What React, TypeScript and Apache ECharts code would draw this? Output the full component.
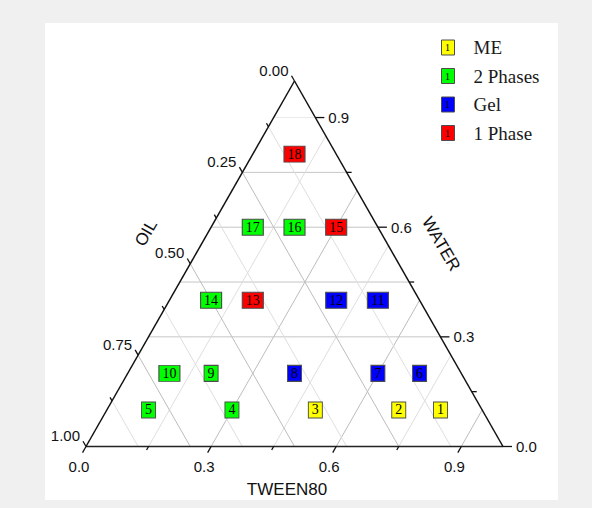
import React, { useEffect, useRef } from 'react';
import * as echarts from 'echarts';

// ---- data (ternary composition of each sample) ----
const sampleIds = [1, 2, 3, 4, 5, 6, 7, 8, 9, 10, 11, 12, 13, 14, 15, 16, 17, 18];
const tween80 = [0.8, 0.7, 0.5, 0.3, 0.1, 0.7, 0.6, 0.4, 0.2, 0.1, 0.5, 0.4, 0.2, 0.1, 0.3, 0.2, 0.1, 0.1];
const water = [0.1, 0.1, 0.1, 0.1, 0.1, 0.2, 0.2, 0.2, 0.2, 0.2, 0.4, 0.4, 0.4, 0.4, 0.6, 0.6, 0.6, 0.8];
const oil = [0.1, 0.2, 0.4, 0.6, 0.8, 0.1, 0.2, 0.4, 0.6, 0.7, 0.1, 0.2, 0.4, 0.5, 0.1, 0.2, 0.3, 0.1];
const phase = [
  'ME', 'ME', 'ME', '2 Phases', '2 Phases', 'Gel', 'Gel', 'Gel', '2 Phases', '2 Phases',
  'Gel', 'Gel', '1 Phase', '2 Phases', '1 Phase', '2 Phases', '2 Phases', '1 Phase',
];
const phaseNames = ['ME', '2 Phases', 'Gel', '1 Phase'];
const phaseColors = ['#ffff00', '#00ff00', '#0000ff', '#ff0000'];

// ---- axis ticks ----
const bottomTickValues = [0, 0.3, 0.6, 0.9];
const bottomTickLabels = ['0.0', '0.3', '0.6', '0.9'];
const bottomMinorTicks = [0.15, 0.45, 0.75];
const rightTickValues = [0, 0.3, 0.6, 0.9];
const rightTickLabels = ['0.0', '0.3', '0.6', '0.9'];
const rightMinorTicks = [0.15, 0.45, 0.75];
const leftTickValues = [0, 0.25, 0.5, 0.75, 1];
const leftTickLabels = ['0.00', '0.25', '0.50', '0.75', '1.00'];
const leftMinorTicks = [0.125, 0.375, 0.625, 0.875];

// grid lines
const waterGridMajor = [0.3, 0.45, 0.6, 0.75];
const waterGridFaint = [0.9];
const tweenGridMajor = [0.3, 0.6, 0.9];
const tweenGridMinor = [0.15, 0.45, 0.75];
const oilGridMajor = [0.25, 0.5, 0.75];
const oilGridMinor = [0.125, 0.375, 0.625, 0.875];

// ternary -> cartesian helpers
const toCart = (t: number, w: number) => [t + w / 2, w];
const leftPt = (o: number) => toCart(0, 1 - o); // left side, oil value
const bottomPt = (t: number) => toCart(t, 0); // base, tween value
const rightPt = (w: number) => toCart(1 - w, w); // right side, water value

const SANS = '"Liberation Sans", Arial, sans-serif';
const SERIF = '"Liberation Serif", "Times New Roman", serif';

export default function App() {
  const ref = useRef<HTMLDivElement>(null);
  useEffect(() => {
    if (!ref.current) return;
    const chart = echarts.init(ref.current, null, { renderer: 'svg' });

    const renderFrame = (params: any, api: any) => {
      const P = (c: number[]) => api.coord(c);
      const children: any[] = [];
      const line = (a: number[], b: number[], stroke: string, lw: number) =>
        children.push({
          type: 'line',
          shape: { x1: a[0], y1: a[1], x2: b[0], y2: b[1] },
          style: { stroke, lineWidth: lw },
          silent: true,
        });
      const text = (s: string, x: number, y: number, align: string, va: string) =>
        children.push({
          type: 'text',
          x,
          y,
          style: { text: s, x: 0, y: 0, fill: '#111', fontSize: 15, fontFamily: SANS, align, verticalAlign: va },
          silent: true,
        });

      const MAJ = '#bdbdbd';
      const MIN = '#dedede';
      // horizontal (water) grid
      waterGridMajor.forEach((w) => line(P(toCart(0, w)), P(toCart(1 - w, w)), '#c6c6c6', 1));
      waterGridFaint.forEach((w) => line(P(toCart(0, w)), P(toCart(1 - w, w)), '#ebebeb', 1));
      // constant tween lines (parallel to left side)
      tweenGridMinor.forEach((t) => line(P(toCart(t, 0)), P(toCart(t, 1 - t)), MIN, 1));
      tweenGridMajor.forEach((t) => line(P(toCart(t, 0)), P(toCart(t, 1 - t)), MAJ, 1));
      // constant oil lines (parallel to right side)
      oilGridMinor.forEach((o) => line(P(leftPt(o)), P(toCart(1 - o, 0)), MIN, 1));
      oilGridMajor.forEach((o) => line(P(leftPt(o)), P(toCart(1 - o, 0)), MAJ, 1));

      // triangle frame
      const A = P(toCart(0, 1));
      const BL = P(toCart(0, 0));
      const BR = P(toCart(1, 0));
      line(BL, BR, '#222', 1.5);
      line(BL, A, '#111', 1.5);
      line(BR, A, '#111', 1.5);

      const norm = (v: number[]) => {
        const l = Math.hypot(v[0], v[1]);
        return [v[0] / l, v[1] / l];
      };
      const leftDir = norm([A[0] - BR[0], A[1] - BR[1]]);
      const bottomDir = norm([BL[0] - A[0], BL[1] - A[1]]);
      const rightDir = [1, 0];
      const tick = (p: number[], d: number[], len: number) =>
        line(p, [p[0] + d[0] * len, p[1] + d[1] * len], '#111', 1.3);

      leftTickValues.forEach((o, i) => {
        const p = P(leftPt(o));
        tick(p, leftDir, 6);
        text(leftTickLabels[i], p[0] - 6, p[1] - 11, 'right', 'middle');
      });
      leftMinorTicks.forEach((o) => tick(P(leftPt(o)), leftDir, 4));

      bottomTickValues.forEach((t, i) => {
        const p = P(bottomPt(t));
        tick(p, bottomDir, 7);
        text(bottomTickLabels[i], p[0] - 7, p[1] + 20, 'center', 'middle');
      });
      bottomMinorTicks.forEach((t) => tick(P(bottomPt(t)), bottomDir, 4));

      rightTickValues.forEach((w, i) => {
        const p = P(rightPt(w));
        tick(p, rightDir, 9);
        text(rightTickLabels[i], p[0] + 13, p[1], 'left', 'middle');
      });
      rightMinorTicks.forEach((w) => tick(P(rightPt(w)), rightDir, 5));

      return { type: 'group', children };
    };

    const scatterSeries = phaseNames.map((name, k) => ({
      type: 'scatter',
      name,
      z: 5,
      data: sampleIds
        .map((id, i) => (phase[i] === name ? [tween80[i] + water[i] / 2, water[i], id, oil[i]] : null))
        .filter((d) => d !== null),
      symbol: 'rect',
      symbolSize: (v: any) => (String(v[2]).length > 1 ? [21, 16] : [14, 16]),
      itemStyle: { color: phaseColors[k], borderColor: '#4d4d4d', borderWidth: 1, opacity: 1 },
      label: {
        show: true,
        position: 'inside',
        formatter: (p: any) => String(p.value[2]),
        fontFamily: SERIF,
        fontSize: 14,
        color: '#000',
      },
      emphasis: { disabled: true },
    }));

    const legendLeft = 436;
    const legendTop = 33;
    const legendPad = 5;
    const legendRow = 19;
    const legendGap = 9.5;

    chart.setOption({
      animation: false,
      backgroundColor: '#f0f0f0',
      grid: { left: 86, top: 81, width: 417, height: 365.5 },
      xAxis: { type: 'value', min: 0, max: 1, show: false },
      yAxis: { type: 'value', min: 0, max: 1, show: false },
      legend: {
        orient: 'vertical',
        left: legendLeft,
        top: legendTop,
        padding: legendPad,
        itemWidth: 13,
        itemHeight: 15,
        itemGap: legendGap,
        icon: 'rect',
        selectedMode: false,
        data: phaseNames,
        itemStyle: { borderColor: '#4d4d4d', borderWidth: 1 },
        textStyle: { fontFamily: SERIF, fontSize: 19, color: '#1a1a1a', padding: [0, 0, 0, 14] },
      },
      graphic: [
        {
          type: 'rect',
          z: -10,
          silent: true,
          shape: { x: 45, y: 23, width: 513, height: 477 },
          style: { fill: '#ffffff' },
        },
        ...phaseNames.map((_, k) => ({
          type: 'text',
          z: 100,
          silent: true,
          x: legendLeft + legendPad + 6.5,
          y: legendTop + legendPad + legendRow / 2 + k * (legendRow + legendGap),
          style: { text: '1', fill: '#000', fontSize: 10, fontFamily: SERIF, align: 'center', verticalAlign: 'middle' },
        })),
        {
          type: 'text',
          silent: true,
          x: 146,
          y: 233,
          rotation: Math.PI / 3,
          style: { text: 'OIL', fill: '#111', fontSize: 17, fontFamily: SANS, align: 'center', verticalAlign: 'middle' },
        },
        {
          type: 'text',
          silent: true,
          x: 441,
          y: 244,
          rotation: -Math.PI / 3,
          style: { text: 'WATER', fill: '#111', fontSize: 17, fontFamily: SANS, align: 'center', verticalAlign: 'middle' },
        },
        {
          type: 'text',
          silent: true,
          x: 287,
          y: 489,
          style: { text: 'TWEEN80', fill: '#111', fontSize: 17, fontFamily: SANS, align: 'center', verticalAlign: 'middle' },
        },
      ],
      series: [
        {
          type: 'custom',
          coordinateSystem: 'cartesian2d',
          z: 1,
          silent: true,
          clip: false,
          data: [[0, 0]],
          renderItem: renderFrame,
        },
        ...scatterSeries,
      ],
    });
    return () => chart.dispose();
  }, []);

  return (
    <div
      ref={ref}
      style={{ position: 'absolute', left: 0, top: 0, width: 592, height: 508, background: '#f0f0f0' }}
    />
  );
}
